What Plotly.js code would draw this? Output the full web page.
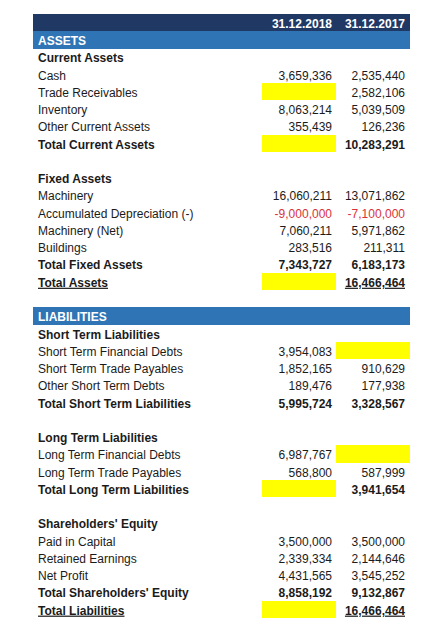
<!DOCTYPE html>
<html>
<head>
<meta charset="utf-8">
<script src="https://cdn.plot.ly/plotly-3.0.1.min.js"></script>
<style>html,body{margin:0;padding:0;background:#fff;}#chart{width:443px;height:624px;}</style>
</head>
<body>
<div id="chart"></div>
<script>
// ---- data ----
var periods = ['31.12.2018', '31.12.2017'];
var labels = [
  'ASSETS',
  'Current Assets',
  'Cash',
  'Trade Receivables',
  'Inventory',
  'Other Current Assets',
  'Total Current Assets',
  '',
  'Fixed Assets',
  'Machinery',
  'Accumulated Depreciation (-)',
  'Machinery (Net)',
  'Buildings',
  'Total Fixed Assets',
  'Total Assets',
  '',
  'LIABILITIES',
  'Short Term Liabilities',
  'Short Term Financial Debts',
  'Short Term Trade Payables',
  'Other Short Term Debts',
  'Total Short Term Liabilities',
  '',
  'Long Term Liabilities',
  'Long Term Financial Debts',
  'Long Term Trade Payables',
  'Total Long Term Liabilities',
  '',
  "Shareholders' Equity",
  'Paid in Capital',
  'Retained Earnings',
  'Net Profit',
  "Total Shareholders' Equity",
  'Total Liabilities'
];
var values2018 = [
  null, null, 3659336, null, 8063214, 355439, null, null,
  null, 16060211, -9000000, 7060211, 283516, 7343727, null, null,
  null, null, 3954083, 1852165, 189476, 5995724, null,
  null, 6987767, 568800, null, null,
  null, 3500000, 2339334, 4431565, 8858192, null
];
var values2017 = [
  null, null, 2535440, 2582106, 5039509, 126236, 10283291, null,
  null, 13071862, -7100000, 5971862, 211311, 6183173, 16466464, null,
  null, null, null, 910629, 177938, 3328567, null,
  null, null, 587999, 3941654, null,
  null, 3500000, 2144646, 3545252, 9132867, 16466464
];
var grandTotals = ['Total Assets', 'Total Liabilities'];

// ---- layout of the sheet (column edges in sheet units) ----
var colEdges = [0, 229, 303, 377];
var PAD = 5;
var TEXT_SHIFT = 0.13;
var FONT = 'Liberation Sans, Arial, sans-serif';
var NAVY = '#203864', BLUE = '#2F75B5', YELLOW = '#FFFF00', RED = '#D9323C', INK = '#1b1b1b';

function fmt(v) {
  if (v === null) return '';
  var s = Math.abs(v).toString().replace(/\B(?=(\d{3})+(?!\d))/g, ',');
  return (v < 0 ? '-' : '') + s;
}
function isBand(l) { return l !== '' && l === l.toUpperCase(); }
function isBold(i) {
  var l = labels[i];
  if (l === '') return false;
  if (l.indexOf('Total') === 0) return true;
  return values2018[i] === null && values2017[i] === null;
}
function deco(text, i) {
  if (text === '') return '';
  var t = text;
  if (grandTotals.indexOf(labels[i]) >= 0) t = '<u>' + t + '</u>';
  if (isBold(i)) t = '<b>' + t + '</b>';
  return t;
}

// row 0 = header band, data rows follow
var rows = [0];
var txtL = [''], txt18 = ['<b>' + periods[0] + '</b>'], txt17 = ['<b>' + periods[1] + '</b>'];
var colL = ['white'], col18 = ['white'], col17 = ['white'];
// fills
var fillY = [], fillBase = [], fillW = [], fillC = [];
fillY.push(0); fillBase.push(colEdges[0]); fillW.push(colEdges[3] - colEdges[0]); fillC.push(NAVY);

var series = [values2018, values2017];
for (var i = 0; i < labels.length; i++) {
  var r = i + 1;
  rows.push(r);
  var band = isBand(labels[i]);
  txtL.push(deco(labels[i], i));
  txt18.push(deco(fmt(values2018[i]), i));
  txt17.push(deco(fmt(values2017[i]), i));
  colL.push(band ? 'white' : INK);
  col18.push(values2018[i] !== null && values2018[i] < 0 ? RED : INK);
  col17.push(values2017[i] !== null && values2017[i] < 0 ? RED : INK);
  if (band) {
    fillY.push(r); fillBase.push(colEdges[0]); fillW.push(colEdges[3] - colEdges[0]); fillC.push(BLUE);
  } else {
    for (var s = 0; s < 2; s++) {
      var mine = series[s][i], other = series[1 - s][i];
      if (mine === null && other !== null) {
        fillY.push(r); fillBase.push(colEdges[s + 1]); fillW.push(colEdges[s + 2] - colEdges[s + 1]); fillC.push(YELLOW);
      }
    }
  }
}

var fills = {
  type: 'bar', orientation: 'h',
  y: fillY, x: fillW, base: fillBase, width: 1,
  marker: { color: fillC, line: { width: 0 } },
  hoverinfo: 'skip'
};
function textTrace(xv, txt, colors, pos) {
  return {
    type: 'scatter', mode: 'text',
    x: rows.map(function () { return xv; }),
    y: rows.map(function (r) { return r + TEXT_SHIFT; }),
    text: txt, textposition: pos,
    textfont: { family: FONT, size: 12, color: colors },
    cliponaxis: false, hoverinfo: 'skip'
  };
}
var data = [
  fills,
  textTrace(colEdges[0] + PAD, txtL, colL, 'middle right'),
  textTrace(colEdges[2] - 4, txt18, col18, 'middle left'),
  textTrace(colEdges[3] - PAD, txt17, col17, 'middle left')
];

var axisOff = { showgrid: false, zeroline: false, showticklabels: false, ticks: '', showline: false, fixedrange: true };
var layout = {
  width: 443,
  height: 624,
  margin: { l: 33, r: 33, t: 14, b: 6 },
  paper_bgcolor: 'white',
  plot_bgcolor: 'white',
  showlegend: false,
  bargap: 0,
  xaxis: Object.assign({ range: [colEdges[0], colEdges[3]] }, axisOff),
  yaxis: Object.assign({ range: [rows.length - 0.5, -0.5] }, axisOff)
};

Plotly.newPlot('chart', data, layout, { displayModeBar: false, staticPlot: true });
</script>
</body>
</html>
